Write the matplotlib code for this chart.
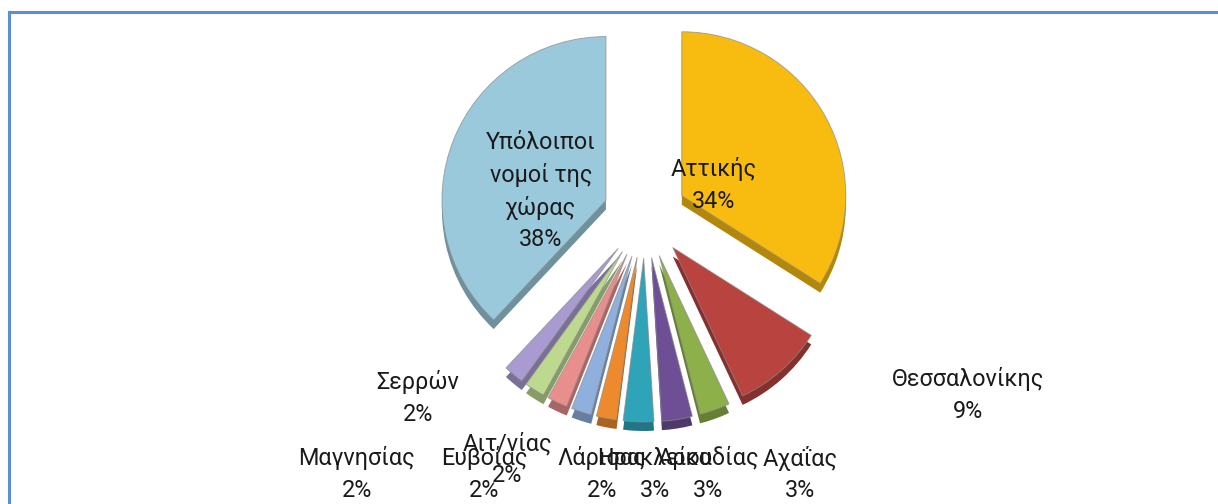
import matplotlib
matplotlib.use("Agg")
import matplotlib.pyplot as plt
from matplotlib.patches import Rectangle
from matplotlib.colors import to_rgb

# ---- data ----
regions = ["Αττικής", "Θεσσαλονίκης", "Αχαΐας", "Αρκαδίας", "Ηρακλείου",
           "Λάρισας", "Ευβοίας", "Αιτ/νίας", "Μαγνησίας", "Σερρών",
           "Υπόλοιποι\nνομοί της\nχώρας"]
shares = [34, 9, 3, 3, 3, 2, 2, 2, 2, 2, 38]

# ---- styles / layout ----
colors = ["#F8BC10", "#B8433F", "#8DB04A", "#6E4F96", "#2FA3B8",
          "#EE8A2E", "#8FB0DC", "#E88E8C", "#BCD98F", "#A99BD0", "#9AC9DB"]
# label centre positions in pixels (x from left, y from top)
label_pos = [(714, 185), (968, 395), (800, 474), (708, 474), (655, 474),
             (602, 474), (484, 474), (507, 459), (357, 474), (418, 398),
             (541, 191)]

W, H = 1218, 504
plt.rcParams["font.family"] = ["Roboto", "DejaVu Sans"]

fig = plt.figure(figsize=(W / 100, H / 100), dpi=100)
ax = fig.add_axes([0, 0, 1, 1])
ax.set_xlim(0, W)
ax.set_ylim(0, H)
ax.axis("off")

# chart border
ax.add_patch(Rectangle((9, -20), W + 40, H - 12 + 20, fill=False,
                       edgecolor="#5B8ED6", linewidth=2.2, zorder=0))

cx, cy = 645, H - 216
radius = 164
explode = [42] * len(shares)   # offset in pixels
depth = 9

def darker(c, f=0.72):
    r, g, b = to_rgb(c)
    return (r * f, g * f, b * f)

# side (depth) of the 3D pie
side, _ = ax.pie(shares, colors=[darker(c) for c in colors], startangle=90,
                 counterclock=False, explode=explode, radius=radius,
                 center=(cx, cy - depth), frame=True,
                 wedgeprops=dict(linewidth=0))
for w in side:
    w.set_zorder(1)
# top face
top, _ = ax.pie(shares, colors=colors, startangle=90, counterclock=False,
                explode=explode, radius=radius, center=(cx, cy), frame=True,
                wedgeprops=dict(linewidth=0.7, edgecolor=(0.55, 0.55, 0.55, 0.7)))
for w in top:
    w.set_zorder(2)

ax.set_xlim(0, W)
ax.set_ylim(0, H)
ax.set_aspect("auto")
ax.axis("off")

for name, v, (px, py) in zip(regions, shares, label_pos):
    ax.text(px, H - py, f"{name}\n{v}%", ha="center", va="center",
            multialignment="center", fontsize=16.8, linespacing=1.48,
            color="#1a1a1a", zorder=5)

fig.savefig("out.png", dpi=100)
